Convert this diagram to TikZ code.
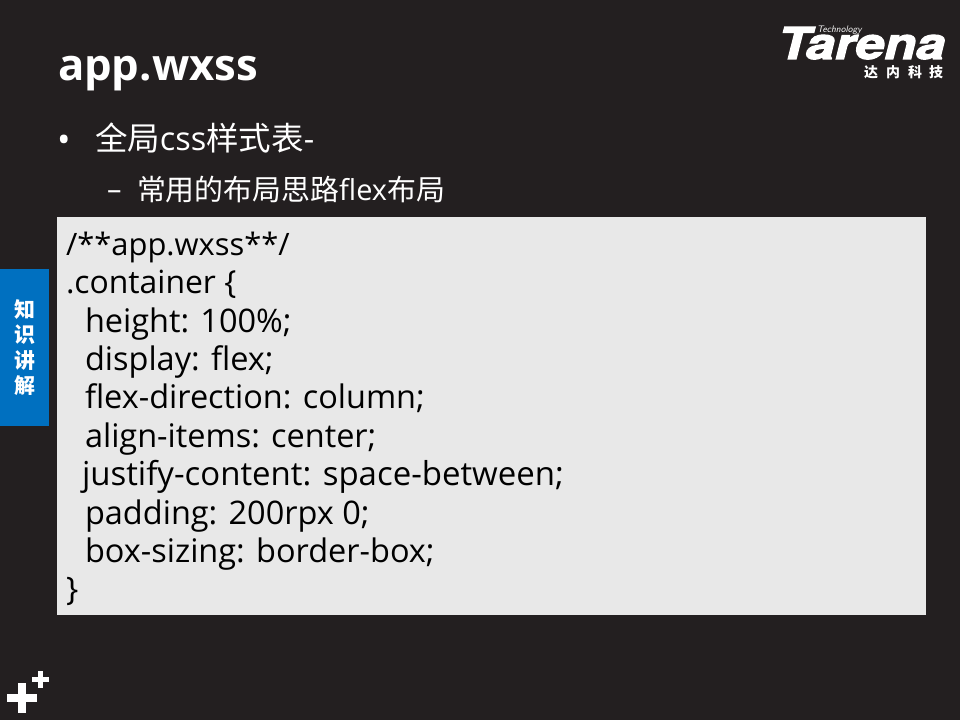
\documentclass[tikz,border=0pt]{standalone}
\usepackage{graphicx}
\usepackage{fontspec}
\setmainfont{Open Sans}
\newfontfamily\cjk{Noto Sans CJK SC}
\newfontfamily\logofont[FakeBold=2.5]{TeX Gyre Heros}
\definecolor{bgc}{HTML}{231F20}
\definecolor{boxc}{HTML}{E8E8E8}
\definecolor{tabc}{HTML}{0070C0}
\newcommand{\fsz}[1]{\fontsize{#1}{#1}\selectfont}
\tikzset{
  txt/.style={anchor=base west,inner sep=0pt,outer sep=0pt,text=white},
  codeline/.style={anchor=base west,inner sep=0pt,outer sep=0pt,text=black,font=\fsz{32.6}},
  tabch/.style={anchor=center,inner sep=0pt,text=white,font=\cjk\bfseries\fsz{21}},
  logoch/.style={anchor=center,inner sep=0pt,text=white,font=\cjk\bfseries\fsz{14}},
}
\begin{document}
\begin{tikzpicture}[x=1bp,y=-1bp]
\useasboundingbox (0,0) rectangle (960,720);
\fill[bgc] (0,0) rectangle (960,720);
\fill[boxc] (57,217) rectangle (926,615);
\fill[tabc] (0,269) rectangle (49,426);
% plus signs
\fill[white] (7,694) rectangle (37,702);
\fill[white] (18,683) rectangle (26,713);
\fill[white] (32,677) rectangle (49,682);
\fill[white] (38,671) rectangle (43,688);
% title
\node[txt,font=\bfseries\fsz{43.8}] (title) at (58,81) {app.wxss};
% bullets
\node[txt,font=\fsz{36}] (b1) at (57,153) {•};
\node[txt,font=\fsz{32.6}] (t1) at (95,151) {{\cjk 全局}css{\cjk 样式表}-};
\node[txt,font=\fsz{29}] (b2) at (107,199) {–};
\node[txt,font=\fsz{29}] (t2) at (137,200) {{\cjk 常用的布局思路}flex{\cjk 布局}};
% code
\node[codeline,font=\fsz{31}] (c1) at (66,255) {/**app.wxss**/};
\node[codeline,font=\fsz{32}] (c2) at (66,293) {.container \{};
\node[codeline] (c3) at (85,332) {height: 100\%;};
\node[codeline] (c4) at (85,370) {display: flex;};
\node[codeline] (c5) at (85,408) {flex-direction: column;};
\node[codeline] (c6) at (85,447) {align-items: center;};
\node[codeline,font=\fsz{33.1}] (c7) at (82,485) {justify-content: space-between;};
\node[codeline] (c8) at (85,524) {padding: 200rpx 0;};
\node[codeline] (c9) at (85,562) {box-sizing: border-box;};
\node[codeline] (c10) at (66,600) {\}};
% tab
\node[tabch] (k1) at (25,310) {知};
\node[tabch] (k2) at (25,335) {识};
\node[tabch] (k3) at (25,361) {讲};
\node[tabch] (k4) at (25,386) {解};
% logo
\node[txt,font=\logofont\bfseries\itshape\fsz{44}] (logo) at (778,59) {\scalebox{1.19}[1]{Tarena}};
\node[txt,font=\sffamily\itshape\fsz{9.5}] (tech) at (817,33) {Technology};
\node[logoch] (l1) at (871,72) {达};
\node[logoch] (l2) at (893,72) {内};
\node[logoch] (l3) at (915,72) {科};
\node[logoch] (l4) at (936,72) {技};
\end{tikzpicture}
\end{document}
